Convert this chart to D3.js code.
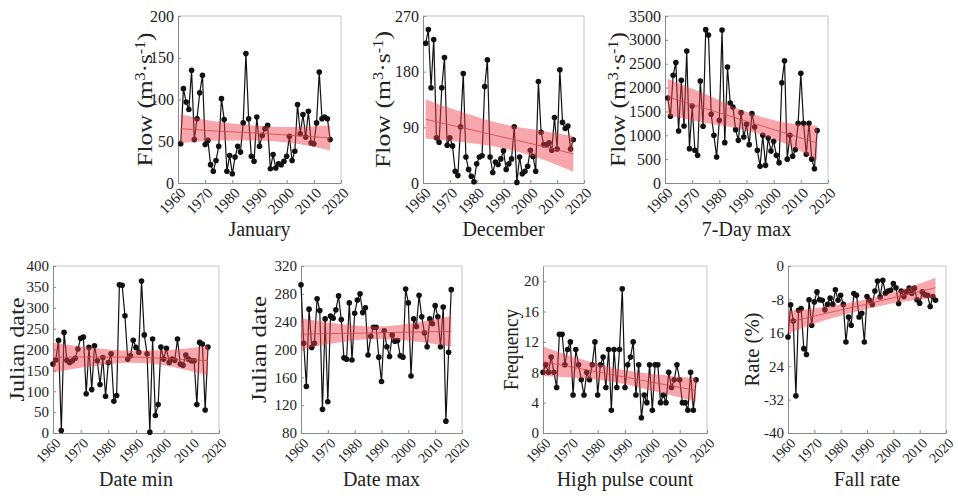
<!DOCTYPE html>
<html>
<head>
<meta charset="utf-8">
<script src="https://cdn.jsdelivr.net/npm/d3@7"></script>
<style>
  body { margin: 0; background: #fff; }
  svg { display: block; }
  text { font-family: "Liberation Serif", "Times New Roman", serif; fill: #222; }
</style>
</head>
<body>
<svg id="chart" width="958" height="502"></svg>
<script>
// years of record
const years = [1960, 1961, 1962, 1963, 1964, 1965, 1966, 1967, 1968, 1969,
  1970, 1971, 1972, 1973, 1974, 1975, 1976, 1977, 1978, 1979,
  1980, 1981, 1982, 1983, 1984, 1985, 1986, 1987, 1988, 1989,
  1990, 1991, 1992, 1993, 1994, 1995, 1996, 1997, 1998, 1999,
  2000, 2001, 2002, 2003, 2004, 2005, 2006, 2007, 2008, 2009,
  2010, 2011, 2012, 2013, 2014, 2015, 2016];
const xTicks = [1960, 1970, 1980, 1990, 2000, 2010, 2020];

// series (top row starts 1961, bottom row 1960)
const januaryFlow = [47, 113, 97, 88, 135, 52, 77, 108, 129, 46, 51, 22, 14, 27, 44, 101, 76, 14, 33, 11,
  31, 44, 37, 72, 155, 77, 32, 26, 79, 44, 57, 65, 69, 17, 34, 18, 23, 22, 26, 32,
  56, 27, 38, 94, 59, 82, 55, 86, 48, 47, 72, 133, 77, 79, 77, 52];
const decemberFlow = [226, 248, 154, 232, 73, 66, 154, 203, 61, 73, 60, 19, 12, 91, 177, 42, 22, 11, 2, 31,
  42, 44, 156, 199, 42, 17, 34, 30, 39, 52, 22, 31, 39, 91, 1, 42, 15, 19, 27, 53,
  43, 19, 164, 82, 62, 62, 65, 53, 106, 55, 183, 98, 88, 92, 55, 70];
const sevenDayMax = [1782, 1398, 2257, 2523, 1090, 2152, 1195, 2767, 720, 1614, 685, 580, 2138, 1188, 3214, 3103, 1440, 999, 545, 1314,
  3207, 846, 2432, 1677, 1593, 1118, 894, 1474, 964, 1230, 804, 1453, 1174, 685, 349, 999, 370, 943, 671, 874,
  580, 426, 2100, 2560, 500, 1000, 560, 700, 1250, 2300, 1250, 600, 1250, 500, 300, 1100];
const dateMin = [165, 175, 222, 6, 241, 174, 169, 173, 179, 201, 227, 230, 94, 205, 104, 209, 173, 116, 181, 88,
  169, 190, 76, 90, 355, 354, 281, 177, 185, 222, 205, 193, 364, 235, 190, 2, 225, 42, 68, 206,
  177, 203, 169, 177, 174, 225, 165, 162, 187, 177, 173, 173, 68, 217, 213, 55, 206];
const dateMax = [293, 209, 147, 258, 203, 209, 273, 256, 114, 244, 125, 248, 245, 257, 277, 243, 188, 186, 267, 185,
  252, 271, 280, 253, 260, 192, 219, 232, 232, 189, 154, 227, 204, 190, 221, 212, 213, 191, 189, 287,
  267, 162, 244, 233, 278, 247, 224, 204, 244, 237, 263, 247, 204, 261, 97, 196, 286];
const highPulse = [8, 9, 8, 10, 8, 6, 13, 13, 9, 11, 12, 5, 11, 9, 7, 5, 8, 7, 9, 12,
  5, 9, 10, 6, 11, 3, 11, 6, 11, 19, 6, 9, 10, 12, 5, 9, 2, 5, 4, 9,
  3, 9, 9, 4, 5, 4, 8, 6, 7, 9, 7, 4, 4, 3, 8, 3, 7];
const fallRate = [-17, -9.3, -13.2, -31.1, -10.6, -10.2, -19.8, -21.2, -8.1, -14.2, -8.6, -6.2, -8.1, -8.2, -10.5, -9.2, -7.7, -9.2, -5.7, -8.2,
  -7.0, -9.2, -18.2, -12.2, -14.2, -6.6, -7.0, -12.2, -11.3, -18.2, -7.3, -8.2, -9.2, -6.0, -3.6, -7.4, -3.4, -6.5, -6.0, -5.8,
  -4.2, -5.2, -9.0, -6.0, -7.3, -6.2, -5.3, -6.5, -5.3, -8.1, -8.9, -6.2, -6.9, -7.0, -9.7, -7.3, -8.2];

// trend line and confidence band, read at a few years
const bandYearsTop = [1961, 1975, 1988, 2002, 2016];
const bandYearsBottom = [1960, 1974, 1988, 2002, 2016];
const januaryFit = [65, 62, 60, 57, 54];
const januaryUpper = [82, 73, 69, 67, 69];
const januaryLower = [48, 51, 51, 48, 39];
const decemberFit = [103, 89, 76, 62, 47];
const decemberUpper = [135, 114, 97, 86, 76];
const decemberLower = [72, 66, 58, 42, 18];
const sevenDayFit = [1803, 1558, 1330, 1085, 840];
const sevenDayUpper = [2187, 1860, 1530, 1290, 1200];
const sevenDayLower = [1419, 1256, 1130, 880, 480];
const dateMinFit = [181, 182, 182, 178, 173];
const dateMinUpper = [217, 204, 197, 199, 209];
const dateMinLower = [145, 160, 168, 160, 137];
const dateMaxFit = [222, 223, 224, 225, 226];
const dateMaxUpper = [245, 237, 233, 238, 248];
const dateMaxLower = [200, 210, 215, 212, 204];
const highPulseFit = [9.4, 8.45, 7.5, 6.55, 5.6];
const highPulseUpper = [11.4, 9.7, 8.4, 7.7, 7.2];
const highPulseLower = [7.5, 7.2, 6.6, 5.4, 4.1];
const fallRateFit = [-13.5, -11.4, -9.4, -7.3, -5.2];
const fallRateUpper = [-10.8, -9.8, -8.2, -5.9, -2.8];
const fallRateLower = [-16.2, -13.0, -10.6, -8.7, -7.6];

// y ticks
const januaryTicks = [0, 50, 100, 150, 200];
const decemberTicks = [0, 90, 180, 270];
const sevenDayTicks = [0, 500, 1000, 1500, 2000, 2500, 3000, 3500];
const dateMinTicks = [0, 50, 100, 150, 200, 250, 300, 350, 400];
const dateMaxTicks = [80, 120, 160, 200, 240, 280, 320];
const highPulseTicks = [0, 4, 8, 12, 16, 20];
const fallRateTicks = [0, -8, -16, -24, -32, -40];
const fallRateTickLabels = ["0", "-8", "16", "24", "-32", "-40"];

const svg = d3.select("#chart");

const flowLabel = [["Flow (m", 0], ["3", 1], ["·s", 0], ["-1", 1], [")", 0]];

const panels = [
  {values: januaryFlow, bandYears: bandYearsTop, fit: januaryFit, upper: januaryUpper, lower: januaryLower,
   domain: [0, 200], ticks: januaryTicks, ylabel: flowLabel, title: "January",
   x0: 178, x1: 341, y0: 16, y1: 183, labOff: 34, labLen: 134, lf: 22, tf: 16, xf: 15},
  {values: decemberFlow, bandYears: bandYearsTop, fit: decemberFit, upper: decemberUpper, lower: decemberLower,
   domain: [0, 270], ticks: decemberTicks, ylabel: flowLabel, title: "December",
   x0: 423, x1: 584, y0: 16, y1: 183, labOff: 41, labLen: 137, lf: 22, tf: 16, xf: 15},
  {values: sevenDayMax, bandYears: bandYearsTop, fit: sevenDayFit, upper: sevenDayUpper, lower: sevenDayLower,
   domain: [0, 3500], ticks: sevenDayTicks, ylabel: flowLabel, title: "7-Day max",
   x0: 665, x1: 828, y0: 16, y1: 183, labOff: 48, labLen: 135, lf: 22, tf: 16, xf: 15},
  {values: dateMin, bandYears: bandYearsBottom, fit: dateMinFit, upper: dateMinUpper, lower: dateMinLower,
   domain: [0, 400], ticks: dateMinTicks, ylabel: [["Julian date", 0]], title: "Date min",
   x0: 53, x1: 219, y0: 266, y1: 433, labOff: 36, labLen: 104, lf: 21, tf: 15, xf: 14},
  {values: dateMax, bandYears: bandYearsBottom, fit: dateMaxFit, upper: dateMaxUpper, lower: dateMaxLower,
   domain: [80, 320], ticks: dateMaxTicks, ylabel: [["Julian date", 0]], title: "Date max",
   x0: 301, x1: 462, y0: 266, y1: 433, labOff: 42, labLen: 107, lf: 21, tf: 15, xf: 14},
  {values: highPulse, bandYears: bandYearsBottom, fit: highPulseFit, upper: highPulseUpper, lower: highPulseLower,
   domain: [0, 22], ticks: highPulseTicks, ylabel: [["Frequency", 0]], title: "High pulse count",
   x0: 543, x1: 707, y0: 266, y1: 433, labOff: 32, labLen: 82, lf: 21, tf: 15, xf: 14},
  {values: fallRate, bandYears: bandYearsBottom, fit: fallRateFit, upper: fallRateUpper, lower: fallRateLower,
   domain: [-40, 0], ticks: fallRateTicks, tickLabels: fallRateTickLabels, ylabel: [["Rate (%)", 0]], title: "Fall rate",
   x0: 788, x1: 946, y0: 266, y1: 433, labOff: 36, labLen: 74, lf: 21, tf: 15, xf: 14}
];

panels.forEach(function(p) {
  const x = d3.scaleLinear().domain([1960, 2020]).range([p.x0, p.x1]);
  const y = d3.scaleLinear().domain(p.domain).range([p.y1, p.y0]);
  const g = svg.append("g");

  // light frame top and right
  g.append("path")
    .attr("d", `M${p.x0},${p.y0}H${p.x1}V${p.y1}`)
    .attr("fill", "none").attr("stroke", "#c4c4c4").attr("stroke-width", 1);

  // bottom axis
  const xa = g.append("g")
    .attr("transform", `translate(0,${p.y1})`)
    .call(d3.axisBottom(x).tickValues(xTicks).tickSize(-3).tickSizeOuter(0).tickFormat(d3.format("d")));
  xa.select(".domain").attr("stroke", "#8a8a8a");
  xa.selectAll(".tick line").attr("stroke", "#8a8a8a");
  xa.selectAll(".tick text")
    .attr("x", 0).attr("y", 0).attr("dy", null)
    .attr("text-anchor", "end")
    .attr("transform", "translate(8,11) rotate(-45)")
    .style("font-size", p.xf + "px").style("font-family", "Liberation Serif").attr("fill", "#222");

  // left axis
  const ya = g.append("g")
    .attr("transform", `translate(${p.x0},0)`)
    .call(d3.axisLeft(y).tickValues(p.ticks).tickSize(-3).tickSizeOuter(0).tickPadding(4)
      .tickFormat(function(d, i) { return p.tickLabels ? p.tickLabels[i] : d; }));
  ya.select(".domain").attr("stroke", "#8a8a8a");
  ya.selectAll(".tick line").attr("stroke", "#8a8a8a");
  ya.selectAll(".tick text")
    .style("font-size", p.tf + "px").style("font-family", "Liberation Serif").attr("fill", "#222");

  // data
  const yrs = years.slice(years.length - p.values.length);
  const pts = p.values.map(function(v, i) { return {year: yrs[i], v: v}; });
  g.append("path")
    .datum(pts)
    .attr("fill", "none").attr("stroke", "#111").attr("stroke-width", 1.2)
    .attr("d", d3.line().x(d => x(d.year)).y(d => y(d.v)));
  g.selectAll(".pt").data(pts).enter().append("circle")
    .attr("cx", d => x(d.year)).attr("cy", d => y(d.v)).attr("r", 2.8).attr("fill", "#111");

  // confidence band and trend on top
  const band = p.bandYears.map(function(yr, i) { return {year: yr, lo: p.lower[i], hi: p.upper[i], fit: p.fit[i]}; });
  g.append("path")
    .datum(band)
    .attr("fill", "rgb(238,62,72)").attr("fill-opacity", 0.46)
    .attr("d", d3.area().curve(d3.curveMonotoneX).x(d => x(d.year)).y0(d => y(d.lo)).y1(d => y(d.hi)));
  g.append("path")
    .datum(band)
    .attr("fill", "none").attr("stroke", "#d2454c").attr("stroke-width", 1).attr("stroke-opacity", 0.8)
    .attr("d", d3.line().curve(d3.curveMonotoneX).x(d => x(d.year)).y(d => y(d.fit)));

  // y label
  const cx = p.x0 - p.labOff, cy = (p.y0 + p.y1) / 2;
  const lab = g.append("text")
    .attr("text-anchor", "middle").attr("dy", "0.35em")
    .style("font-size", p.lf + "px");
  p.ylabel.forEach(function(part, i) {
    const prev = i > 0 ? p.ylabel[i - 1][1] : 0;
    const t = lab.append("tspan").text(part[0]);
    if (part[1] === 1) t.attr("dy", prev ? 0 : -7).style("font-size", "14px");
    else if (prev === 1) t.attr("dy", 7);
  });
  const w = lab.node().getBBox().width;
  lab.attr("transform", `translate(${cx},${cy}) rotate(-90) scale(${p.labLen / w},1)`);

  // title
  g.append("text")
    .attr("x", (p.x0 + p.x1) / 2).attr("y", p.y1 + 53)
    .attr("text-anchor", "middle")
    .style("font-size", "20px")
    .text(p.title);
});
</script>
</body>
</html>
